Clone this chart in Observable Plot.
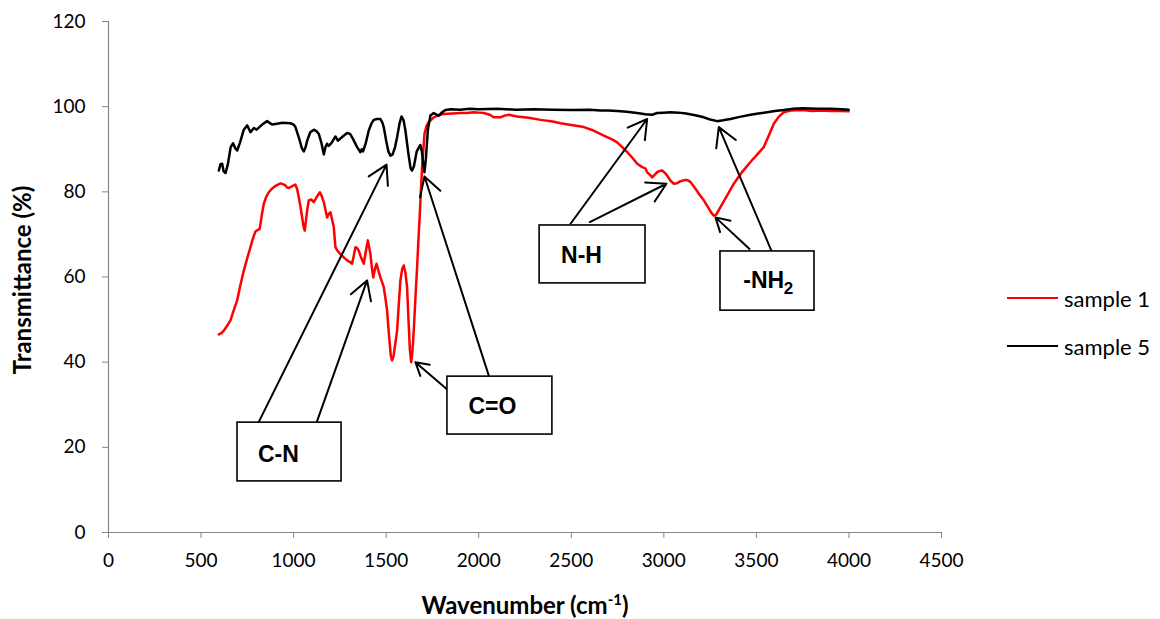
<!DOCTYPE html>
<html><head><meta charset="utf-8">
<script src="https://cdn.jsdelivr.net/npm/d3@7"></script>
<script src="https://cdn.jsdelivr.net/npm/@observablehq/plot@0.6"></script>
<style>
body{margin:0;background:#fff;}
#wrap{position:relative;width:1160px;height:619px;font-family:Lato,"Liberation Sans",sans-serif;color:#000;}
#ylab{position:absolute;left:21px;top:280px;transform:translate(-50%,-50%) rotate(-90deg);font-weight:bold;font-size:24px;white-space:nowrap;}
#xlab{position:absolute;left:525px;top:604px;transform:translate(-50%,-50%);font-weight:bold;font-size:24px;white-space:nowrap;}
#xlab sup{font-size:15px;vertical-align:9px;}
.leg{position:absolute;left:1007px;display:flex;align-items:center;font-size:22px;white-space:nowrap;height:24px;}
.leg span.sw{display:inline-block;width:51px;height:2.5px;margin-right:6px;}
</style></head><body><div id="wrap"></div>
<script>
// Sample 1 (red) – wavenumber (cm-1) and transmittance (%)
const wn1 = [596,610,623,640,659,675,695,712,731,750,767,780,794,805,817,828,839,852,866,880,893,910,929,942,956,965,974,990,1010,1020,1028,1037,1046,1053,1060,1066,1073,1082,1095,1109,1125,1142,1152,1163,1172,1181,1190,1199,1208,1217,1222,1226,1235,1244,1258,1271,1289,1305,1316,1325,1334,1343,1352,1365,1379,1390,1401,1408,1415,1422,1430,1440,1448,1458,1469,1478,1487,1496,1505,1515,1525,1532,1540,1550,1559,1568,1577,1586,1595,1604,1613,1620,1628,1635,1642,1649,1658,1668,1676,1682,1694,1707,1718,1730,1757,1785,1811,1860,1900,1937,1973,2000,2027,2060,2081,2117,2140,2163,2207,2270,2334,2400,2442,2500,2568,2620,2676,2720,2748,2775,2802,2830,2856,2883,2900,2910,2925,2937,2950,2964,2978,2991,3005,3018,3036,3054,3070,3090,3117,3130,3144,3170,3195,3216,3240,3258,3270,3282,3306,3340,3378,3420,3468,3505,3540,3570,3594,3620,3648,3684,3750,3800,3850,3900,3950,3998];
const t1 = [46.5,46.8,47.4,48.5,49.8,52.0,54.5,58.0,61.5,64.5,67.0,69.0,70.7,71.0,71.3,74.5,77.2,78.8,79.9,80.6,81.1,81.6,82.0,81.8,81.5,81.0,80.9,81.3,81.7,80.5,78.7,76.5,74.0,72.0,70.9,73.0,75.6,78.0,78.2,77.6,78.8,79.9,79.0,77.6,75.8,74.0,74.8,75.2,73.5,71.7,69.0,67.0,66.3,65.8,65.2,64.6,63.9,63.5,63.1,65.0,67.0,66.8,66.2,64.5,63.1,66.0,68.6,67.0,65.4,62.5,59.9,62.0,63.1,61.5,59.9,58.8,57.6,55.0,52.1,46.5,41.5,40.4,41.5,44.5,47.4,53.5,59.2,61.8,62.7,61.0,57.6,50.5,43.0,40.0,42.5,47.4,55.0,63.1,70.1,75.0,85.8,93.6,95.5,96.4,97.5,98.0,98.3,98.4,98.5,98.5,98.7,98.6,98.5,98.1,97.5,97.5,97.9,98.1,97.7,97.4,96.9,96.5,96.1,95.7,95.2,94.4,93.2,92.3,91.6,90.5,89.3,88.0,86.6,85.8,85.5,84.6,84.0,83.4,84.0,84.6,84.9,85.0,84.5,83.8,82.6,81.9,82.0,82.5,82.8,82.7,82.3,80.8,79.2,78.0,76.3,75.0,74.4,74.6,76.4,79.0,81.9,84.5,87.0,88.8,90.5,93.5,96.0,97.6,98.7,99.1,99.2,99.0,99.1,99.0,99.0,98.9];
// Sample 5 (black)
const wn5 = [596,605,614,622,632,645,660,673,685,695,710,730,749,758,767,785,800,830,857,870,884,910,940,983,1000,1010,1030,1045,1055,1065,1073,1090,1109,1125,1136,1150,1163,1172,1181,1190,1205,1226,1239,1260,1289,1305,1320,1343,1361,1368,1375,1390,1406,1420,1433,1450,1469,1480,1487,1500,1512,1523,1535,1548,1559,1572,1583,1594,1604,1620,1632,1640,1650,1665,1685,1693,1700,1707,1715,1725,1739,1757,1770,1785,1800,1820,1850,1900,1950,2000,2100,2200,2300,2400,2500,2600,2658,2700,2748,2800,2856,2900,2937,2964,3000,3036,3080,3120,3170,3216,3250,3288,3320,3360,3410,3468,3510,3558,3600,3648,3700,3750,3828,3900,3960,3998];
const t5 = [85.0,86.5,86.6,84.8,84.4,86.5,90.5,91.4,90.2,89.7,91.5,94.5,95.6,94.8,94.0,95.0,94.6,95.8,96.6,96.2,95.8,96.0,96.2,96.1,95.8,95.2,92.5,90.2,89.5,90.5,92.0,94.0,94.6,94.2,93.6,91.5,88.8,90.5,91.3,90.8,91.5,93.0,92.0,92.8,93.8,93.6,92.5,90.5,89.3,90.0,89.5,91.5,94.4,96.0,96.9,97.1,97.1,96.2,95.2,92.0,89.5,88.5,88.8,90.5,92.8,96.0,97.7,96.8,94.4,89.0,85.5,85.0,86.0,89.5,91.0,89.5,86.5,84.6,88.0,94.5,97.9,98.5,98.2,97.9,98.6,99.2,99.4,99.3,99.5,99.4,99.5,99.3,99.4,99.3,99.2,99.3,99.1,99.1,99.0,98.8,98.5,98.2,98.1,98.5,98.6,98.7,98.6,98.4,98.0,97.5,97.0,96.6,96.8,97.1,97.6,98.1,98.4,98.7,99.0,99.2,99.5,99.6,99.5,99.5,99.4,99.3];

const xTicks = [0,500,1000,1500,2000,2500,3000,3500,4000,4500];
const yTicks = [0,20,40,60,80,100,120];

// Annotations (data units)
const boxLabels = ["C-N","C=O","N-H","-NH"];
const boxX1 = [697,1831,2329,3306];
const boxX2 = [1259,2398,2901,3814];
const boxY1 = [12.0,23.0,58.5,52.1];
const boxY2 = [25.8,36.6,72.1,66.0];
const labelX = [918,2074,2555,3540];
const labelY = [18.3,29.6,65.0,59.2];
const arrowX1 = [810,1124,1838,2054,2496,2600,3463,3581];
const arrowY1 = [25.8,25.8,33.3,36.9,72.5,72.9,66.6,66.2];
const arrowX2 = [1502,1397,1658,1707,2910,3014,3279,3297];
const arrowY2 = [86.4,59.2,40.0,83.6,97.1,81.9,74.0,95.2];

const seriesNames = ["sample 1","sample 5"];
const seriesColors = ["#ff0000","#000000"];

const idx1 = d3.range(wn1.length), idx5 = d3.range(wn5.length);
const bi = d3.range(boxLabels.length), ai = d3.range(arrowX1.length);
const boxFont = '"Liberation Sans",Arial,sans-serif';

const chart = Plot.plot({
  width:1160, height:619,
  marginLeft:108, marginRight:219, marginTop:21, marginBottom:87,
  style:{fontFamily:'Lato,"Liberation Sans",sans-serif', fontSize:"19px", color:"#000", background:"#fff"},
  x:{domain:[0,4500]},
  y:{domain:[0,120]},
  marks:[
    Plot.axisX({ticks:xTicks, tickSize:6, tickPadding:15, stroke:"#868686", fill:"#000", label:null, tickFormat:d=>String(d)}),
    Plot.axisY({ticks:yTicks, tickSize:6, tickPadding:17, stroke:"#868686", fill:"#000", label:null}),
    Plot.ruleY([0],{stroke:"#868686", strokeWidth:1.2}),
    Plot.ruleX([0],{stroke:"#868686", strokeWidth:1.2}),
    Plot.line(idx1,{x:i=>wn1[i], y:i=>t1[i], stroke:seriesColors[0], strokeWidth:2.5}),
    Plot.line(idx5,{x:i=>wn5[i], y:i=>t5[i], stroke:seriesColors[1], strokeWidth:2.5}),
    Plot.arrow(ai,{x1:i=>arrowX1[i], y1:i=>arrowY1[i], x2:i=>arrowX2[i], y2:i=>arrowY2[i], stroke:"#000", strokeWidth:2, headLength:16, headAngle:60}),
    Plot.rect(bi,{x1:i=>boxX1[i], x2:i=>boxX2[i], y1:i=>boxY1[i], y2:i=>boxY2[i], fill:"#fff", stroke:"#000", strokeWidth:1.6}),
    Plot.text(bi.filter(i=>i<3),{x:i=>labelX[i], y:i=>labelY[i], text:i=>boxLabels[i], fontSize:23, fontWeight:"bold", fontFamily:boxFont, fill:"#000"}),
    Plot.text([3],{x:i=>labelX[i], y:i=>labelY[i], text:i=>boxLabels[i], fontSize:23, fontWeight:"bold", fontFamily:boxFont, fill:"#000", textAnchor:"middle"}),
    Plot.text([3],{x:i=>labelX[i], y:i=>labelY[i], text:()=>"2", dx:20, dy:8, textAnchor:"start", fontSize:17, fontWeight:"bold", fontFamily:boxFont, fill:"#000"})
  ]
});
const wrap = document.getElementById("wrap");
wrap.appendChild(chart);
const yl = document.createElement("div"); yl.id="ylab"; yl.textContent="Transmittance (%)"; wrap.appendChild(yl);
const xl = document.createElement("div"); xl.id="xlab"; xl.innerHTML="Wavenumber (cm<sup>-1</sup>)"; wrap.appendChild(xl);
const legTops=[298,346];
seriesNames.forEach((n,k)=>{
  const d=document.createElement("div"); d.className="leg"; d.style.top=(legTops[k]-12)+"px";
  d.innerHTML=`<span class="sw" style="background:${seriesColors[k]}"></span><span>${n}</span>`;
  wrap.appendChild(d);
});
</script></body></html>
